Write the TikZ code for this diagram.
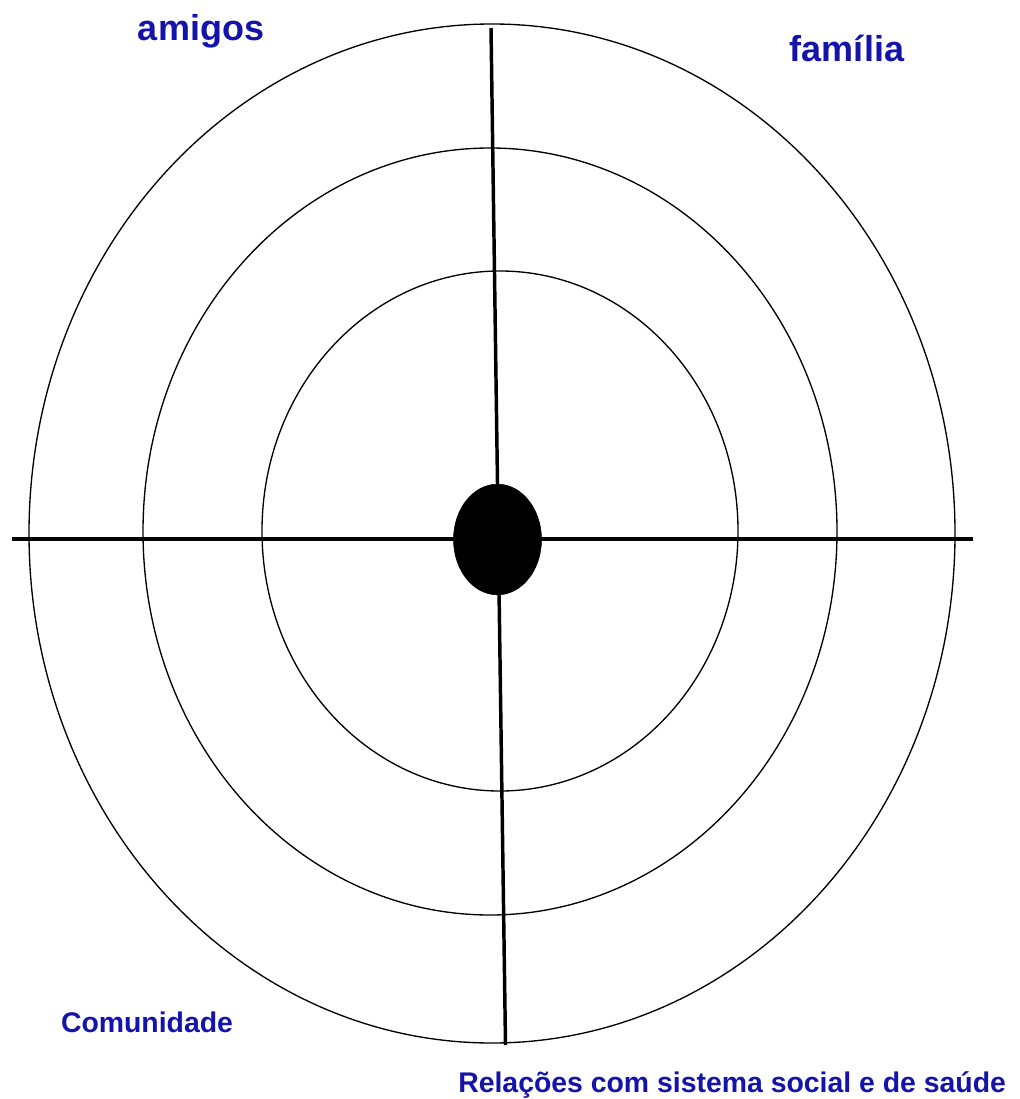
\documentclass[tikz,border=0pt]{standalone}
\usepackage{fontspec}
\setmainfont{Liberation Sans}
\usetikzlibrary{shapes.geometric}
\definecolor{lblue}{RGB}{20,20,170}
\begin{document}
\begin{tikzpicture}[x=0.75pt,y=-0.75pt,
  ring/.style={line width=1pt},
  axis/.style={line width=2.8pt},
  lbl/.style={text=lblue,font=\bfseries,inner sep=0pt,anchor=base},
  big/.style={lbl,font=\fontsize{27}{30}\selectfont\bfseries},
  small/.style={lbl,font=\fontsize{21.3}{24}\selectfont\bfseries}]
\useasboundingbox[fill=white] (0,0) rectangle (1020,1099);
% rings
\draw[ring] (492,533.5) ellipse [x radius=463, y radius=509.5];
\draw[ring] (490,531.5) ellipse [x radius=347, y radius=383.5];
\draw[ring] (500,531) ellipse [x radius=238, y radius=260];
% axes
\coordinate (L) at (12,539);
\coordinate (R) at (973,539);
\coordinate (T) at (491,28);
\coordinate (B) at (505.5,1045);
\draw[axis] (L) -- (R);
\draw[line width=2.6pt] (T) -- (B);
% centre
\node[draw=black,fill=black,ellipse,minimum width=66pt,minimum height=83pt,inner sep=0pt] (c) at (497.5,539.5) {};
% labels
\node[big] (amigos) at (201,41) {amigos};
\node[big] (familia) at (847,62) {família};
\node[small] (com) at (147,1032) {Comunidade};
\node[small,anchor=base west] (rel) at (458,1092) {Relações com sistema social e de saúde};
\end{tikzpicture}
\end{document}
